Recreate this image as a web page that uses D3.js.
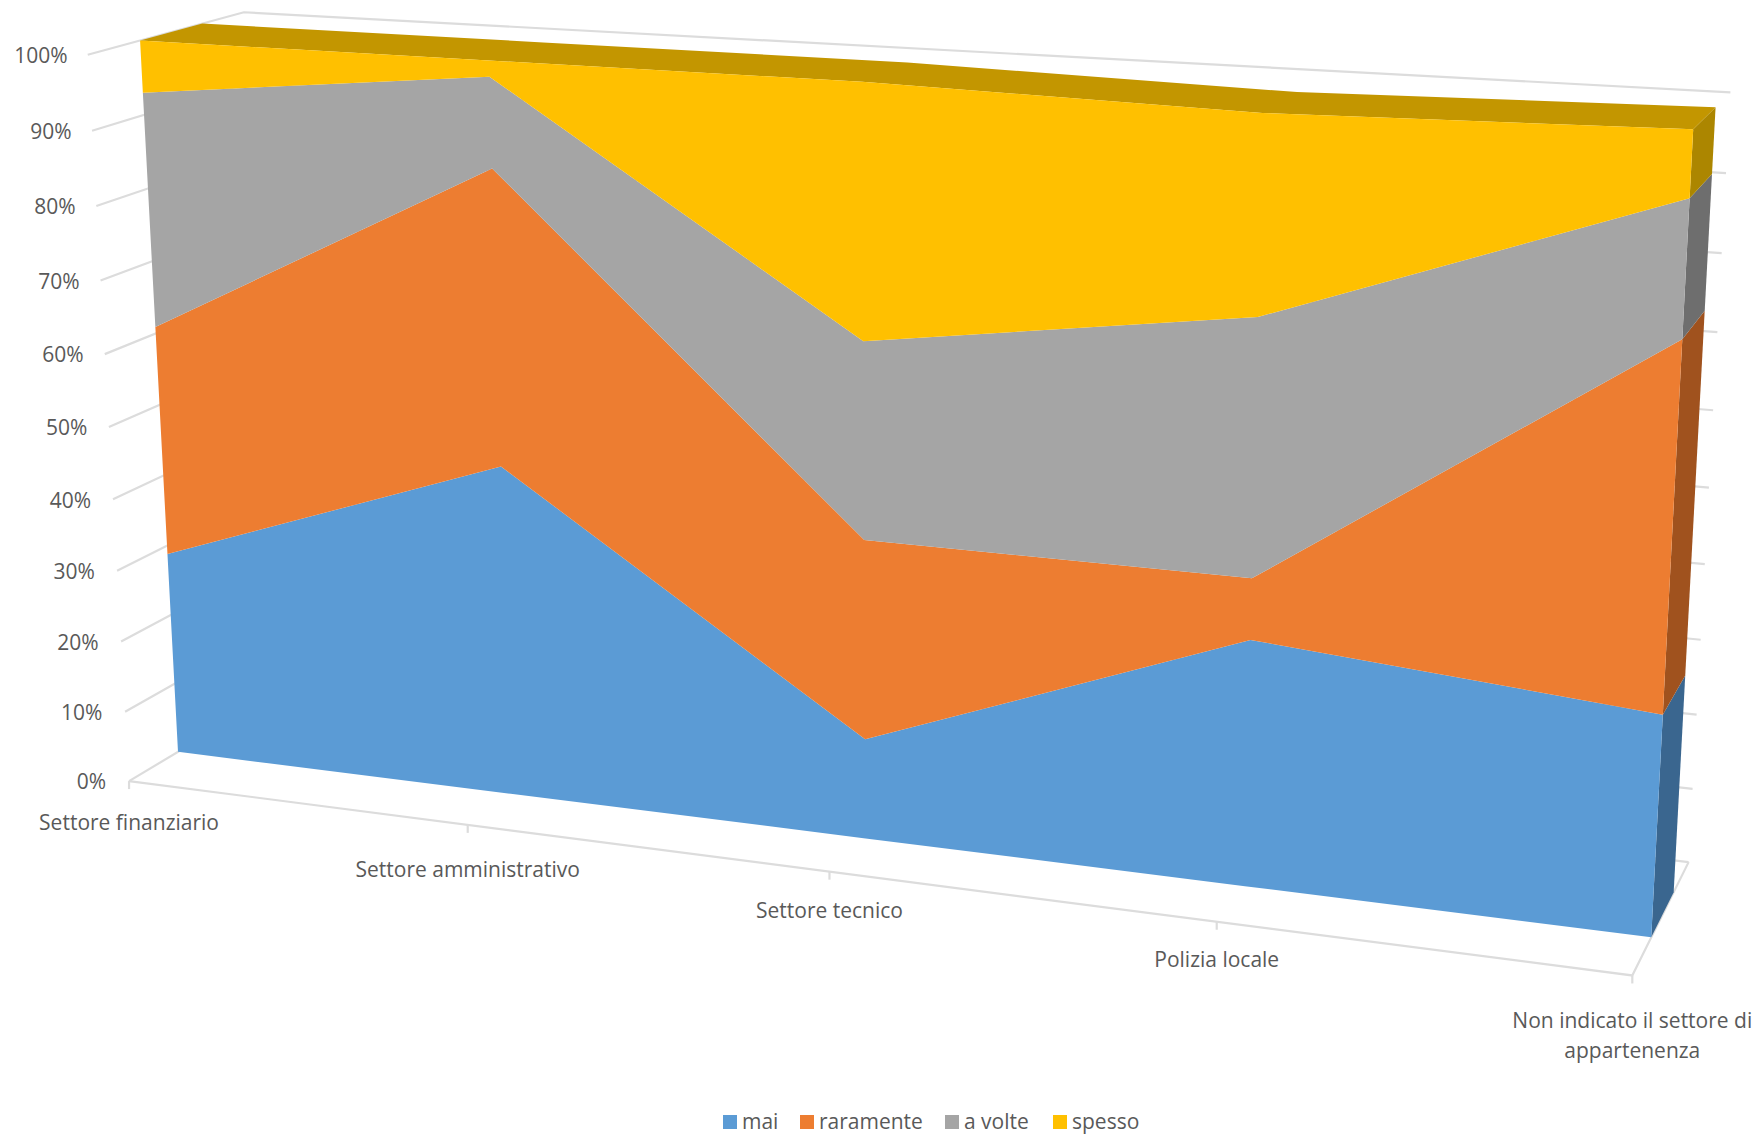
<!DOCTYPE html>
<html><head><meta charset="utf-8">
<script src="https://cdn.jsdelivr.net/npm/d3@7"></script>
<style>html,body{margin:0;background:#fff}svg{display:block}text{font-family:"Open Sans",sans-serif;fill:#595959}</style>
</head><body><svg id="c" width="1760" height="1137"></svg>
<script>
const categories=[["Settore finanziario"],["Settore amministrativo"],["Settore tecnico"],["Polizia locale"],["Non indicato il settore di","appartenenza"]];
const seriesNames=["mai","raramente","a volte","spesso"];
const mai=[28.8,45.9,13.7,32.7,28.7];
const raramente=[32.1,40,27,8,46.4];
const aVolte=[32.1,12,26.2,33.2,16.8];
const spesso=[7,2.1,33.1,25.1,8.1];
const colors=["#5B9BD5","#ED7D31","#A5A5A5","#FFC000"];
const sideColors=["#3A668F","#A0521E","#6E6E6E","#AC8600"];
const topColor="#C39600";
const percentTicks=d3.range(0,101,10);

// camera: box coordinates (u,v,d) -> page pixels, fitted from box anchors
const d1=0.32,d2=0.72;
const anchors=[
 [0,0,0,133,780],[1,0,0,1633,975],[1,0,1,1689,861],[1,1,1,1731,92],[0,1,1,247,12],[0,1,0,89,54],
 [0,0,d1,174,753],[1,0,d1,1651,939],[1,1,d1,1693,129],[0,1,d1,137,41],
 [1,0,d2,1673,892],[1,1,d2,1715,108],[0,1,d2,201,24]];
function solve(A,b){const n=b.length;A=A.map((r,i)=>[...r,b[i]]);
 for(let c=0;c<n;c++){let p=c;for(let r=c+1;r<n;r++)if(Math.abs(A[r][c])>Math.abs(A[p][c]))p=r;[A[c],A[p]]=[A[p],A[c]];
  for(let r=0;r<n;r++)if(r!==c){const f=A[r][c]/A[c][c];for(let k=c;k<=n;k++)A[r][k]-=f*A[c][k];}}
 return A.map((r,i)=>r[n]/r[i]);}
function fit(){const rows=[],rhs=[];
 anchors.forEach(([u,v,d,x,y])=>{x/=1000;y/=1000;
  rows.push([u,v,d,1,0,0,0,0,-x*u,-x*v,-x*d]);rhs.push(x);
  rows.push([0,0,0,0,u,v,d,1,-y*u,-y*v,-y*d]);rhs.push(y);});
 const N=d3.range(11).map(i=>d3.range(11).map(j=>d3.sum(rows,r=>r[i]*r[j])));
 const R=d3.range(11).map(i=>d3.sum(rows,(r,k)=>r[i]*rhs[k]));
 return solve(N,R);}
const m=fit();
function P(u,v,d){const w=m[8]*u+m[9]*v+m[10]*d+1;
 return [1000*(m[0]*u+m[1]*v+m[2]*d+m[3])/w,1000*(m[4]*u+m[5]*v+m[6]*d+m[7])/w];}

const xScale=d3.scalePoint().domain(d3.range(categories.length)).range([0,1]);
const yScale=d3.scaleLinear().domain([0,100]).range([0,1]);
const table=categories.map((c,i)=>({i,mai:mai[i],raramente:raramente[i],"a volte":aVolte[i],spesso:spesso[i]}));
const stacked=d3.stack().keys(seriesNames)(table);
const svg=d3.select("#c");
const path=d3.line();
const poly=pts=>path(pts)+"Z";

// walls and floor
const grid=svg.append("g").attr("fill","none").attr("stroke","#dcdcdc").attr("stroke-width",2.2);
percentTicks.forEach(t=>{
 grid.append("path").attr("d",path([P(0,yScale(t),0),P(0,yScale(t),1),P(1,yScale(t),1)]));
});
grid.append("path").attr("d",path([P(0,0,0),P(1,0,0),P(1,0,1)]));
categories.forEach((c,i)=>{const p=P(xScale(i),0,0);
 grid.append("path").attr("d",path([p,[p[0],p[1]+8]]));});

// depth faces
const layers=svg.append("g");
stacked.forEach((s,k)=>{
 const last=s[s.length-1];
 layers.append("path").attr("fill",sideColors[k]).attr("d",poly([
  P(1,yScale(last[0]),d1),P(1,yScale(last[1]),d1),P(1,yScale(last[1]),d2),P(1,yScale(last[0]),d2)]));
});
const topSeries=stacked[stacked.length-1];
layers.append("path").attr("fill",topColor).attr("d",poly([
 ...topSeries.map((p,i)=>P(xScale(i),yScale(p[1]),d1)),
 ...topSeries.map((p,i)=>P(xScale(i),yScale(p[1]),d2)).reverse()]));
// front faces
stacked.forEach((s,k)=>{
 layers.append("path").attr("fill",colors[k]).attr("d",poly([
  ...s.map((p,i)=>P(xScale(i),yScale(p[1]),d1)),
  ...s.map((p,i)=>P(xScale(i),yScale(p[0]),d1)).reverse()]));
});

// value labels
percentTicks.forEach(t=>{const p=P(0,yScale(t),0);
 svg.append("text").attr("x",p[0]-20-(100-t)*0.03).attr("y",p[1]+1).attr("dy",".35em").attr("text-anchor","end")
  .attr("font-size",21).text(t+"%");});
// category labels
const labelOffsets=[42,45,39,38,45];
categories.forEach((c,i)=>{const p=P(xScale(i),0,0);
 c.forEach((line,j)=>svg.append("text").attr("x",p[0]).attr("y",p[1]+labelOffsets[i]+j*30).attr("dy",".35em")
  .attr("text-anchor","middle").attr("font-size",21).text(line));});
// legend
const legendX=[723,800,945,1053];
seriesNames.forEach((n,i)=>{
 svg.append("rect").attr("x",legendX[i]).attr("y",1115).attr("width",14).attr("height",14).attr("fill",colors[i]);
 svg.append("text").attr("x",legendX[i]+19).attr("y",1122).attr("dy",".35em").attr("font-size",21).text(n);});
</script></body></html>
